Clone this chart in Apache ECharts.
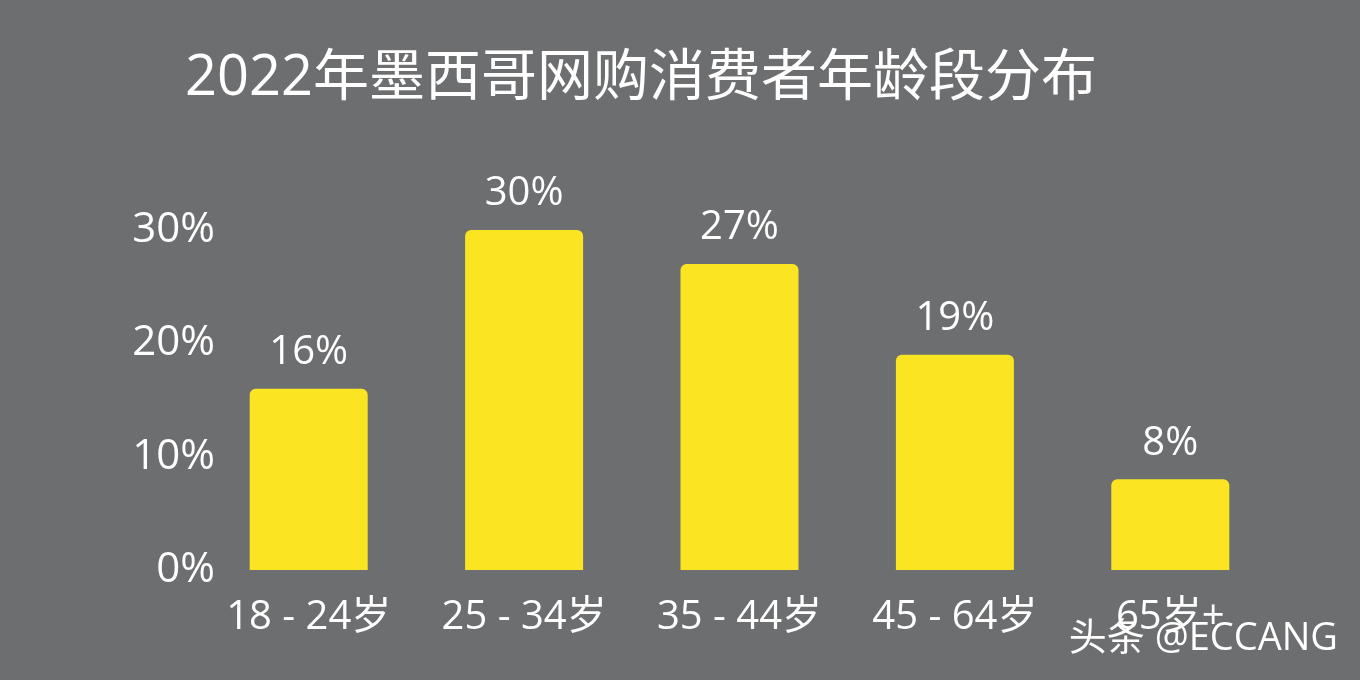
<!DOCTYPE html>
<html><head><meta charset="utf-8">
<script src="https://cdn.jsdelivr.net/npm/echarts@6/dist/echarts.min.js"></script>
<style>html,body{margin:0;background:#6d6e70}#c{width:1360px;height:680px}</style>
</head><body><div id="c"></div>
<script>
const categories = ["18 - 24岁", "25 - 34岁", "35 - 44岁", "45 - 64岁", "65岁+"];
const shares = [16, 30, 27, 19, 8];
const yTicks = [0, 10, 20, 30];

const font = "'Open Sans','Noto Sans CJK SC',sans-serif";
const chart = echarts.init(document.getElementById("c"));
chart.setOption({
    backgroundColor: "#6d6e70",
    title: {
        text: "2022年墨西哥网购消费者年龄段分布",
        left: 180, top: 46,
        textStyle: { color: "#fff", fontSize: 56, fontWeight: "normal", fontFamily: font }
    },
    graphic: [{
        type: "text", right: 22, bottom: 22,
        style: { text: "头条 @ECCANG", fill: "#fff", fontSize: 38, fontFamily: font }
    }],
    grid: { left: 201, right: 82, top: 230, bottom: 110 },
    xAxis: {
        type: "category", data: categories,
        axisLine: { show: false }, axisTick: { show: false },
        axisLabel: { color: "#fff", fontSize: 40, margin: 28, interval: 0, hideOverlap: false, fontFamily: font }
    },
    yAxis: {
        type: "value", min: yTicks[0], max: yTicks[yTicks.length - 1], interval: 10,
        splitLine: { show: false },
        axisLabel: { color: "#fff", fontSize: 42, margin: -14, align: "right", fontFamily: font, formatter: "{value}%" }
    },
    series: [{
        type: "bar", data: shares, barWidth: 118,
        itemStyle: { color: "#fbe522", borderRadius: [6, 6, 0, 0] },
        label: { show: true, position: "top", distance: 16, color: "#fff", fontSize: 40, fontFamily: font, formatter: "{c}%" }
    }]
});
</script></body></html>
